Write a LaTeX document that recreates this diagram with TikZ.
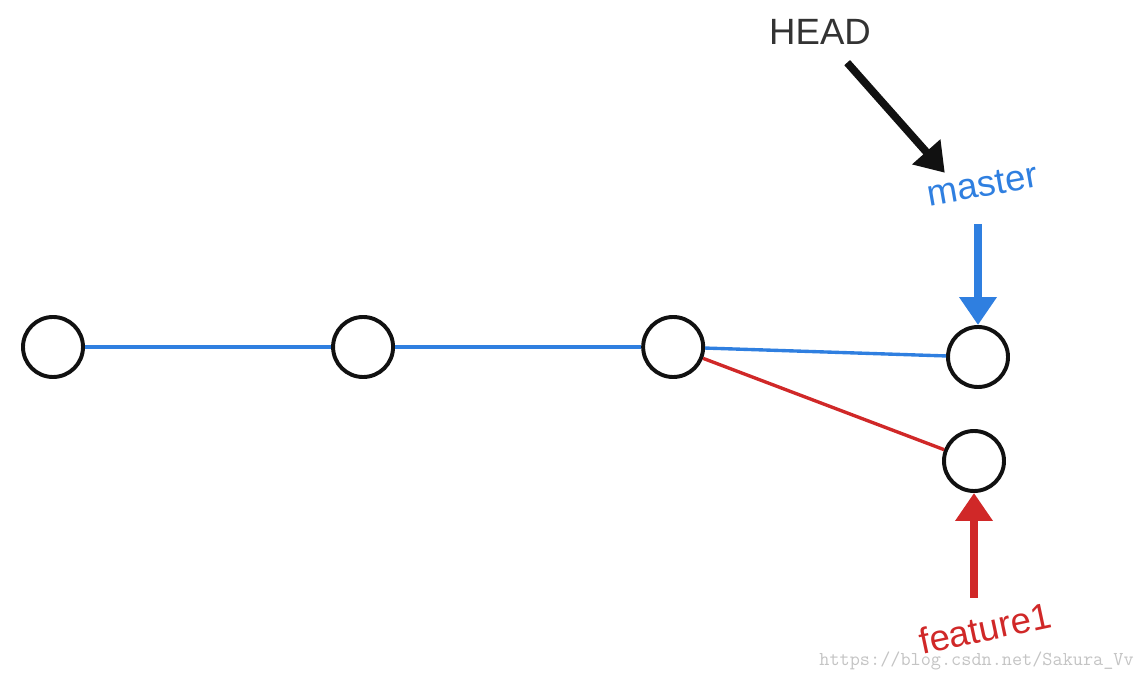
\documentclass[tikz,border=0pt]{standalone}
\usepackage{fontspec}
\setmainfont{Liberation Sans}
\usepackage{xcolor}
\usetikzlibrary{positioning, arrows.meta, calc}
\definecolor{ink}{HTML}{111111}
\definecolor{headgray}{HTML}{333333}
\definecolor{trunk}{HTML}{2F7FE0}
\definecolor{branch}{HTML}{D02828}
\definecolor{wmark}{HTML}{C4C4C4}

\begin{document}
\begin{tikzpicture}[
  x=0.025cm, y=-0.025cm,
  node distance=7.75cm, on grid,
  commit/.style={circle, draw=ink, line width=2.8pt, fill=white,
    minimum size=1.5cm, inner sep=0pt},
  tag/.style={font=\fontsize{26}{26}\selectfont, inner sep=2pt},
  link/.style={line width=2.4pt},
  ptr/.style={-{Triangle[length=7mm, width=9mm]}, line width=5.5pt}
]
\useasboundingbox (0,0) rectangle (1144,681);

\node[commit] (c1) at (53,347) {};
\node[commit, right=of c1] (c2) {};
\node[commit, right=of c2] (c3) {};
\node[commit] (c4) at (978,357) {};
\node[commit] (c5) at (974,461) {};

\node[tag, text=headgray] (headtag) at (820,32) {HEAD};
\node[tag, text=trunk, rotate=10] (mastertag) at (982,185) {master};
\node[tag, text=branch, rotate=12] (feattag) at (985,628) {feature1};

\draw[link, draw=trunk] (c1) -- (c2);
\draw[link, draw=trunk] (c2) -- (c3);
\draw[link, draw=trunk] (c3) -- (c4);
\draw[link, draw=branch] (c3) -- (c5);

\draw[ptr, draw=ink, shorten <=0.5cm, shorten >=0.1cm]
  (headtag) -- ($(mastertag.north west)!0.45!(mastertag.north)$);
\draw[ptr, draw=trunk, shorten <=0.6cm] (mastertag.south -| c4) -- (c4);
\draw[ptr, draw=branch, shorten <=0.35cm] (feattag.north -| c5) -- (c5);

\node[font=\ttfamily\fontsize{14}{14}\selectfont, text=wmark, anchor=east,
  inner sep=0pt] (mark) at (1134,661) {https://blog.csdn.net/Sakura\_Vv};
\end{tikzpicture}
\end{document}
